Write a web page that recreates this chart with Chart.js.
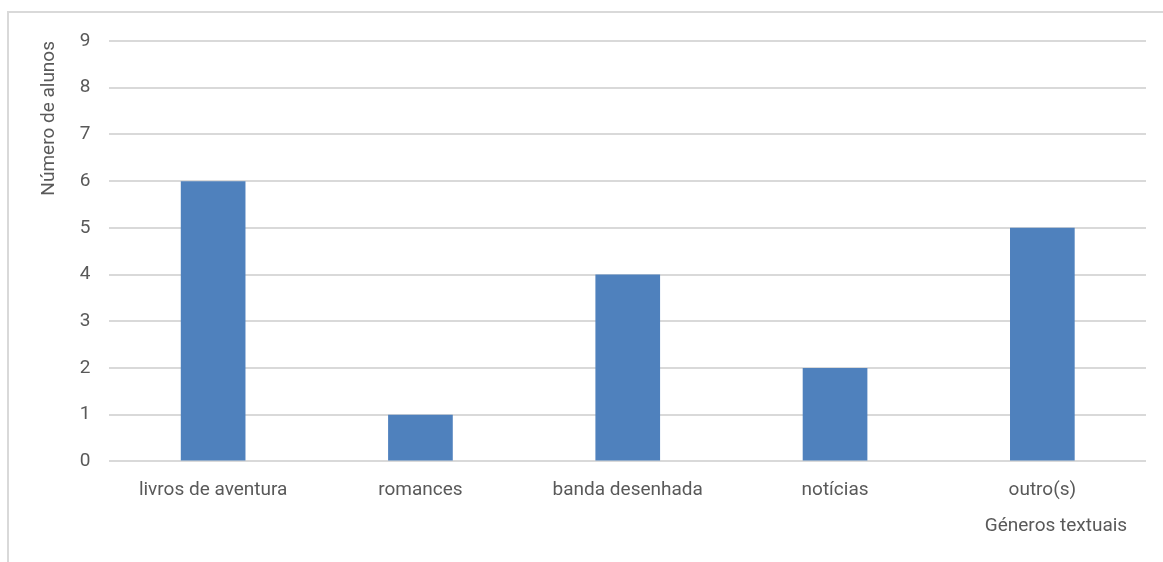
<!DOCTYPE html>
<html>
<head>
<meta charset="utf-8">
<script src="https://cdn.jsdelivr.net/npm/chart.js@4.4.0/dist/chart.umd.min.js"></script>
<style>
  html, body { margin: 0; padding: 0; background: #fff; }
  #frame {
    position: absolute; left: 7px; top: 11px; right: 0; bottom: 0;
    border-left: 2px solid #d9d9d9; border-top: 2px solid #d9d9d9;
  }
  #wrap { position: absolute; left: 0; top: 0; width: 1163px; height: 562px; }
</style>
</head>
<body>
<div id="frame"></div>
<div id="wrap"><canvas id="generosChart"></canvas></div>
<script>
const categories = ["livros de aventura", "romances", "banda desenhada", "notícias", "outro(s)"];
const alunosData = [6, 1, 4, 2, 5];
const yTicks = [0, 1, 2, 3, 4, 5, 6, 7, 8, 9];

document.addEventListener("DOMContentLoaded", function () {
  const font = "Roboto, 'Open Sans', sans-serif";
  const chartCanvas = document.getElementById("generosChart");
  new Chart(chartCanvas, {
    type: "bar",
    data: {
      labels: categories,
      datasets: [
        {
          label: "Número de alunos",
          data: alunosData,
          backgroundColor: "#4f81bd",
          borderWidth: 0,
          barPercentage: 0.52,
          categoryPercentage: 0.6,
        },
      ],
    },
    options: {
      responsive: true,
      maintainAspectRatio: false,
      animation: false,
      layout: { padding: { left: 38, right: 17, top: 41, bottom: 24 } },
      plugins: {
        legend: { display: false },
        tooltip: { enabled: false },
      },
      scales: {
        x: {
          grid: { display: false, drawTicks: false },
          border: { display: false },
          ticks: { color: "#595959", font: { family: font, size: 19 }, padding: 17 },
          title: {
            display: true,
            text: "Géneros textuais    ",
            align: "end",
            color: "#595959",
            font: { family: font, size: 19 },
            padding: { top: -3, bottom: 0 },
          },
        },
        y: {
          min: yTicks[0],
          max: yTicks[yTicks.length - 1],
          afterBuildTicks: function (axis) {
            axis.ticks = yTicks.map(function (v) { return { value: v }; });
          },
          grid: { color: "#d9d9d9", lineWidth: 2, drawTicks: false },
          border: { display: false },
          ticks: { color: "#595959", font: { family: font, size: 19 }, padding: 19 },
          title: {
            display: true,
            text: "Número de alunos",
            align: "end",
            color: "#595959",
            font: { family: font, size: 19 },
            padding: { top: 0, bottom: 0 },
          },
        },
      },
    },
  });
});
</script>
</body>
</html>
